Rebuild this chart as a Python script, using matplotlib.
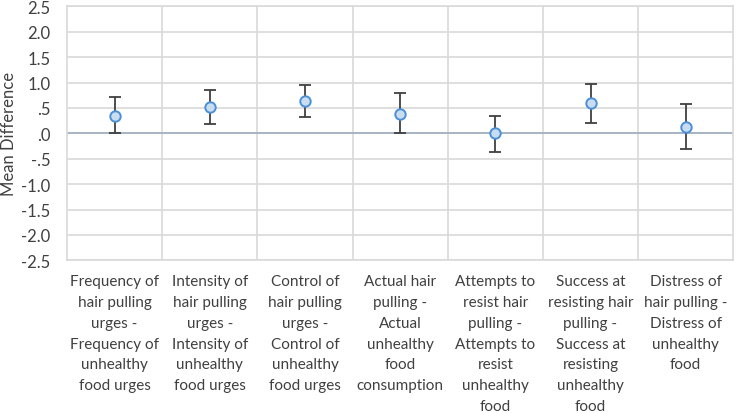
import numpy as np
import matplotlib
matplotlib.use("Agg")
import matplotlib.pyplot as plt

plt.rcParams['font.family'] = ['Lato', 'DejaVu Sans']

categories = [
    "Frequency of\nhair pulling\nurges -\nFrequency of\nunhealthy\nfood urges",
    "Intensity of\nhair pulling\nurges -\nIntensity of\nunhealthy\nfood urges",
    "Control of\nhair pulling\nurges -\nControl of\nunhealthy\nfood urges",
    "Actual hair\npulling -\nActual\nunhealthy\nfood\nconsumption",
    "Attempts to\nresist hair\npulling -\nAttempts to\nresist\nunhealthy\nfood",
    "Success at\nresisting hair\npulling -\nSuccess at\nresisting\nunhealthy\nfood",
    "Distress of\nhair pulling -\nDistress of\nunhealthy\nfood",
]
mean_diff = [0.35, 0.51, 0.63, 0.38, 0.00, 0.60, 0.13]
ci_lower = [0.00, 0.18, 0.33, 0.00, -0.37, 0.21, -0.31]
ci_upper = [0.71, 0.85, 0.96, 0.79, 0.35, 0.98, 0.57]
y_ticks = [-2.5, -2.0, -1.5, -1.0, -0.5, 0.0, 0.5, 1.0, 1.5, 2.0, 2.5]
y_ticklabels = ["-2.5", "-2.0", "-1.5", "-1.0", "-.5", ".0", ".5", "1.0", "1.5", "2.0", "2.5"]

mean_diff = np.array(mean_diff)
yerr = [mean_diff - np.array(ci_lower), np.array(ci_upper) - mean_diff]
x = np.arange(len(categories))

fig = plt.figure(figsize=(7.37, 4.14), dpi=100)
ax = fig.add_axes([67 / 737, 1 - 261.3 / 414, (733.3 - 67) / 737, (261.3 - 7.3) / 414])

ax.set_xlim(-0.5, len(categories) - 0.5)
ax.set_ylim(-2.5, 2.5)
ax.set_yticks(y_ticks)
ax.set_yticklabels(y_ticklabels)

# grid: horizontal at ticks, vertical between categories
for v in y_ticks:
    ax.axhline(v, color="#d9d9d9", lw=1.2, zorder=0)
for b in np.arange(0.5, len(categories) - 0.5, 1):
    ax.axvline(b, color="#d9d9d9", lw=1.2, zorder=0)
ax.axhline(0, color="#a6b4c4", lw=1.4, zorder=1)

for s in ax.spines.values():
    s.set_color("#d9d9d9")
    s.set_linewidth(1.2)

ax.errorbar(x, mean_diff, yerr=yerr, fmt="none", ecolor="#404040",
            elinewidth=1.3, capsize=4, capthick=1.3, zorder=2)
ax.plot(x, mean_diff, "o", ms=7.5, mfc="#c9dcf0", mec="#4a90d9", mew=1.4,
        ls="none", zorder=3)

ax.set_xticks(x)
ax.set_xticklabels(categories, fontsize=11, color="#404040", linespacing=1.62,
                   va="top", ha="center")
ax.tick_params(axis="x", length=0, pad=10)
ax.tick_params(axis="y", length=0, labelsize=12, labelcolor="#404040", pad=12)
ax.set_ylabel("Mean Difference", fontsize=12, color="#404040")
ax.yaxis.set_label_coords(-0.075, 0.5)

fig.savefig("out.png", dpi=100)
